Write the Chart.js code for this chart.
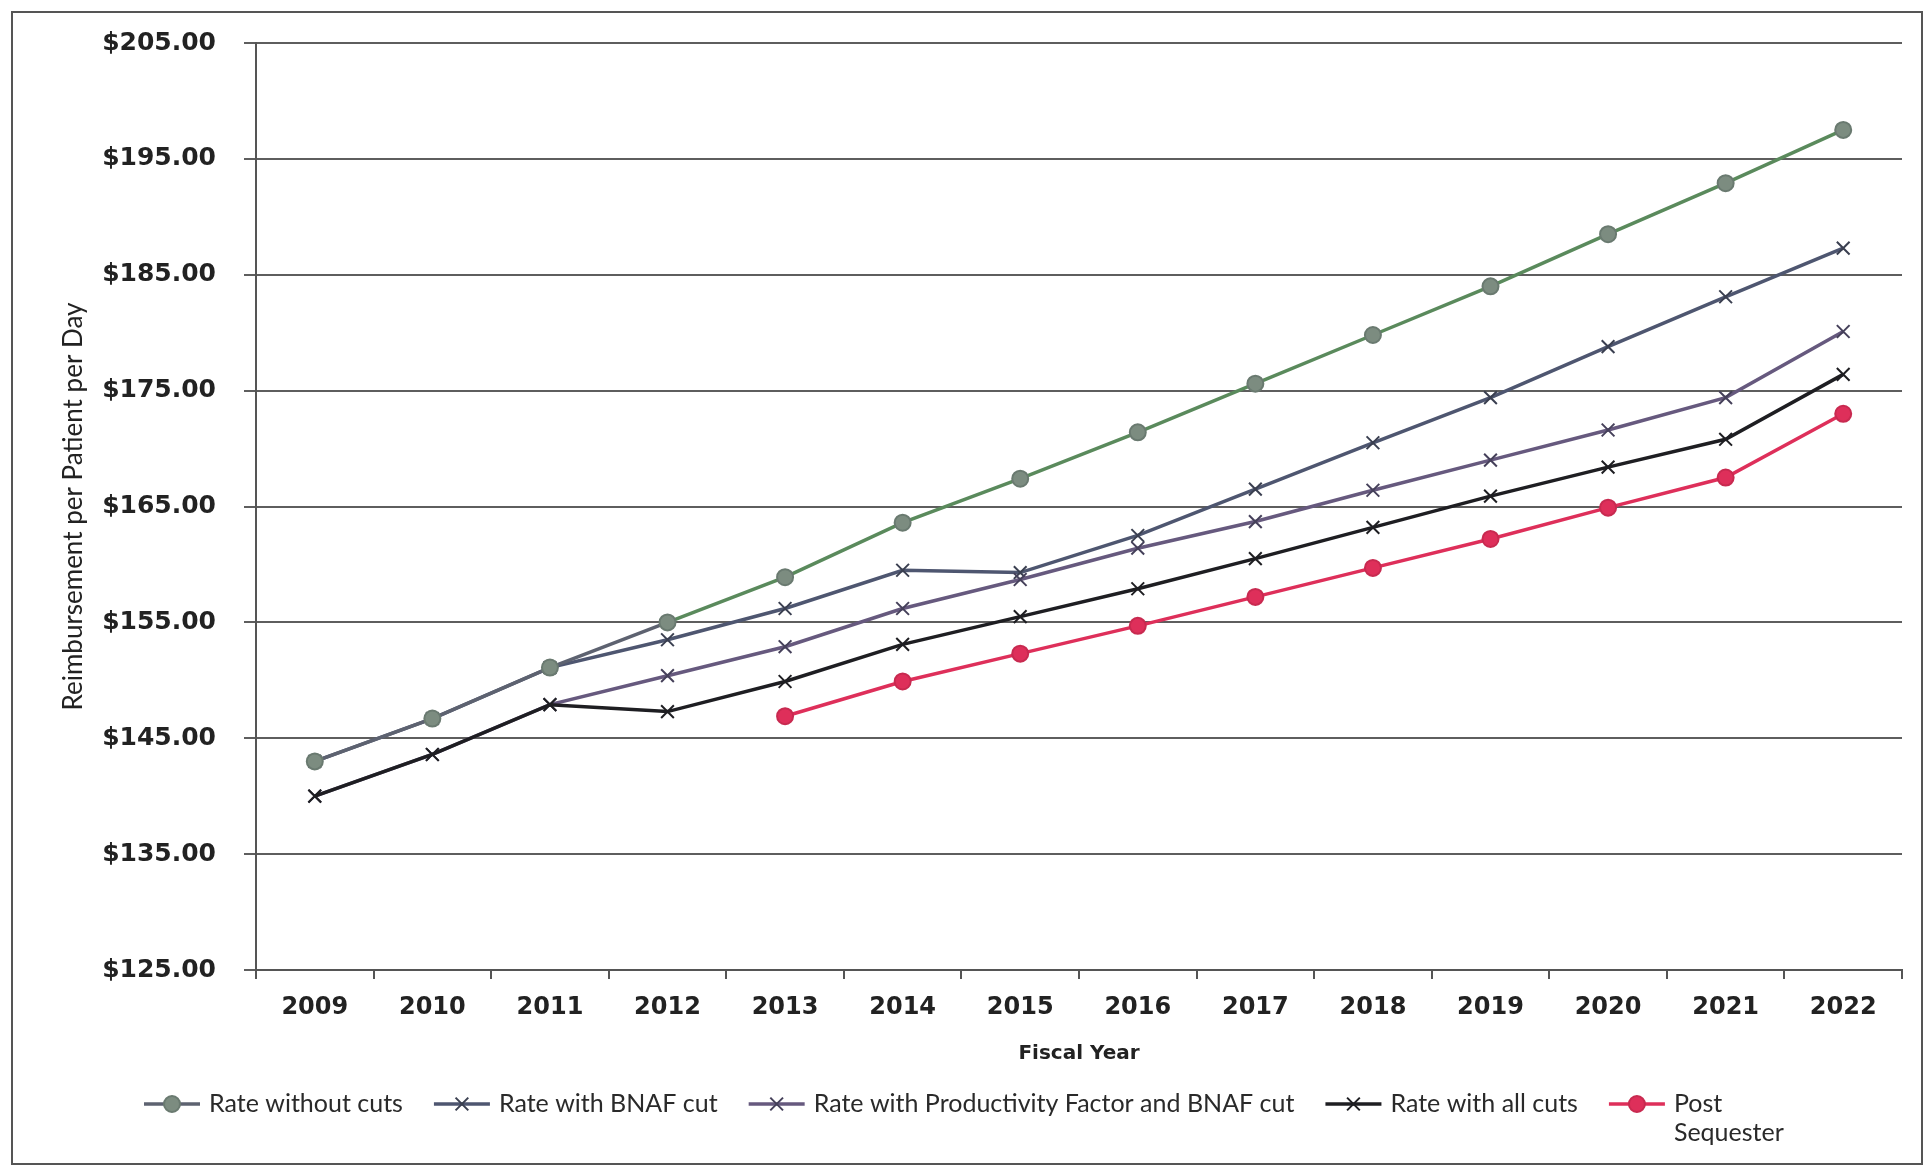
<!DOCTYPE html>
<html>
<head>
<meta charset="utf-8">
<script src="https://cdn.jsdelivr.net/npm/chart.js@4/dist/chart.umd.min.js"></script>
<style>
  html, body { margin: 0; padding: 0; background: #fff; }
  #c { display: block; }
</style>
</head>
<body>
<canvas id="c" width="1926" height="1168"></canvas>
<script>
const years = ['2009', '2010', '2011', '2012', '2013', '2014', '2015', '2016', '2017', '2018', '2019', '2020', '2021', '2022'];
const rateWithoutCuts = [143.0, 146.7, 151.1, 155.0, 158.9, 163.6, 167.4, 171.4, 175.6, 179.8, 184.0, 188.5, 192.9, 197.5];
const rateBnafCut = [143.0, 146.7, 151.1, 153.5, 156.2, 159.5, 159.3, 162.5, 166.5, 170.5, 174.4, 178.8, 183.1, 187.3];
const rateProdBnafCut = [140.0, 143.6, 147.9, 150.4, 152.9, 156.2, 158.7, 161.4, 163.7, 166.4, 169.0, 171.6, 174.4, 180.1];
const rateAllCuts = [140.0, 143.6, 147.9, 147.3, 149.9, 153.1, 155.5, 157.9, 160.5, 163.2, 165.9, 168.4, 170.8, 176.4];
const postSequester = [null, null, null, null, 146.9, 149.9, 152.3, 154.7, 157.2, 159.7, 162.2, 164.9, 167.5, 173.0];
const seriesNames = ['Rate without cuts', 'Rate with BNAF cut', 'Rate with Productivity Factor and BNAF cut', 'Rate with all cuts', ['Post', 'Sequester']];
const yMin = 125, yMax = 205, yStep = 10;

// white page + the scanned frame
const frame = {
  id: 'frame',
  beforeDraw(chart) {
    const ctx = chart.ctx;
    ctx.save();
    ctx.fillStyle = '#fff';
    ctx.fillRect(0, 0, chart.width, chart.height);
    ctx.strokeStyle = '#555';
    ctx.lineWidth = 2;
    ctx.strokeRect(12, 12, 1910, 1152);
    ctx.restore();
  }
};

// legend like the excel one: line + marker + label, last label on two lines
const lineLegend = {
  id: 'lineLegend',
  afterDraw(chart) {
    const ctx = chart.ctx;
    const y = 1104;
    ctx.save();
    ctx.font = '25px Lato';
    ctx.textBaseline = 'middle';
    let x = 144;
    chart.data.datasets.forEach(function (ds, i) {
      ctx.strokeStyle = ds.legendColor || ds.borderColor;
      ctx.lineWidth = 3.5;
      ctx.beginPath();
      ctx.moveTo(x, y);
      ctx.lineTo(x + 56, y);
      ctx.stroke();
      ctx.fillStyle = ds.pointBackgroundColor;
      ctx.strokeStyle = ds.pointBorderColor;
      ctx.lineWidth = ds.pointBorderWidth;
      Chart.helpers.drawPoint(ctx, {
        pointStyle: ds.pointStyle,
        radius: ds.pointRadius,
        borderWidth: ds.pointBorderWidth
      }, x + 28, y);
      ctx.fillStyle = '#2a2a2a';
      const text = seriesNames[i];
      const lines = Array.isArray(text) ? text : [text];
      let w = 0;
      lines.forEach(function (t, j) {
        ctx.fillText(t, x + 65, y + j * 29);
        w = Math.max(w, ctx.measureText(t).width);
      });
      x += 65 + w + 31;
    });
    ctx.restore();
  }
};

const data = {
  labels: years,
  datasets: [{
    label: 'Rate without cuts',
    data: rateWithoutCuts,
    borderColor: '#5a8a5c',
    legendColor: '#5d6270',
    segment: {
      borderColor: function (c) { return c.p0DataIndex < 3 ? '#5d6270' : '#5a8a5c'; }
    },
    backgroundColor: '#7c8c80',
    pointBackgroundColor: '#7c8c80',
    pointBorderColor: '#6a7a70',
    pointStyle: 'circle',
    pointRadius: 8,
    pointBorderWidth: 2,
    borderWidth: 3.5,
    order: 5
  }, {
    label: 'Rate with BNAF cut',
    data: rateBnafCut,
    borderColor: '#4e5670',
    backgroundColor: '#4e5670',
    pointBackgroundColor: '#4e5670',
    pointBorderColor: '#3a3f50',
    pointStyle: 'crossRot',
    pointRadius: 9,
    pointBorderWidth: 2,
    borderWidth: 3.5,
    order: 6
  }, {
    label: 'Rate with Productivity Factor and BNAF cut',
    data: rateProdBnafCut,
    borderColor: '#66597e',
    backgroundColor: '#66597e',
    pointBackgroundColor: '#66597e',
    pointBorderColor: '#45405a',
    pointStyle: 'crossRot',
    pointRadius: 9,
    pointBorderWidth: 2,
    borderWidth: 3.5,
    order: 4
  }, {
    label: 'Rate with all cuts',
    data: rateAllCuts,
    borderColor: '#1e1e22',
    backgroundColor: '#1e1e22',
    pointBackgroundColor: '#1e1e22',
    pointBorderColor: '#1e1e22',
    pointStyle: 'crossRot',
    pointRadius: 9,
    pointBorderWidth: 2,
    borderWidth: 3.5,
    order: 2
  }, {
    label: 'Post Sequester',
    data: postSequester,
    borderColor: '#de2f5a',
    backgroundColor: '#de2f5a',
    pointBackgroundColor: '#de2f5a',
    pointBorderColor: '#c82a50',
    pointStyle: 'circle',
    pointRadius: 8,
    pointBorderWidth: 2,
    borderWidth: 3.5,
    order: 1
  }]
};

const config = {
  type: 'line',
  data: data,
  options: {
    responsive: false,
    animation: false,
    layout: { padding: { left: 20, top: 28, right: 24, bottom: 100 } },
    plugins: {
      legend: { display: false },
      tooltip: { enabled: false }
    },
    scales: {
      x: {
        offset: true,
        grid: {
          offset: true,
          drawOnChartArea: false,
          drawTicks: true,
          tickLength: 9,
          color: '#555',
          lineWidth: 2
        },
        border: { color: '#555', width: 2 },
        ticks: {
          color: '#222',
          padding: 14,
          font: { family: 'DejaVu Sans', weight: 'bold', size: 24 }
        },
        title: {
          display: true,
          text: 'Fiscal Year',
          color: '#222',
          padding: { top: 0, bottom: 2 },
          font: { family: 'DejaVu Sans', weight: 'bold', size: 20 }
        },
        afterFit: function (s) { s.height = 98; }
      },
      y: {
        min: yMin,
        max: yMax,
        ticks: {
          stepSize: yStep,
          color: '#222',
          padding: 28,
          font: { family: 'DejaVu Sans', weight: 'bold', size: 25 },
          callback: function (v) { return '$' + v.toFixed(2); }
        },
        grid: {
          color: '#5e5e5e',
          lineWidth: 2,
          tickLength: 12
        },
        border: { color: '#555', width: 2 },
        title: {
          display: true,
          text: 'Reimbursement per Patient per Day',
          color: '#222',
          padding: { top: 38, bottom: 0 },
          font: { family: 'Lato', size: 26 }
        },
        afterFit: function (s) { s.width = 236; }
      }
    }
  },
  plugins: [frame, lineLegend]
};

const myChart = new Chart(document.getElementById('c'), config);
</script>
</body>
</html>
